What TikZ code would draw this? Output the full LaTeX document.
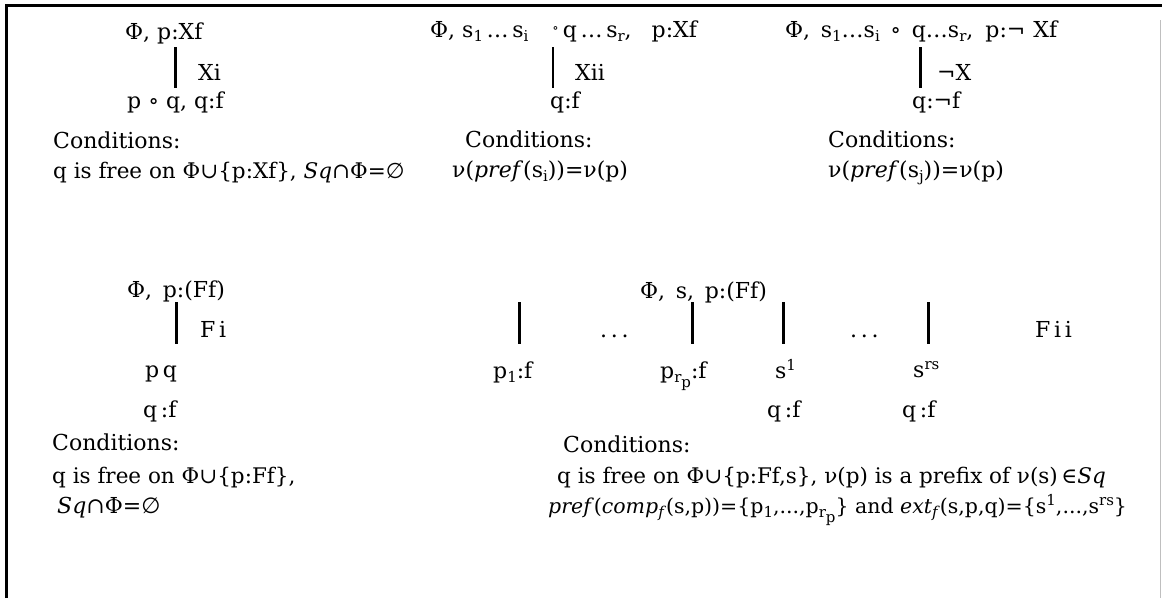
\documentclass[tikz,border=0pt]{standalone}
\usepackage{fontspec}
\setmainfont{DejaVu Serif}
\newfontfamily\symfont{DejaVu Sans}
\usetikzlibrary{positioning}

\newcommand{\lo}[1]{\raisebox{-4.5pt}{\fontsize{15}{15}\selectfont #1}}
\newcommand{\hi}[1]{\raisebox{8pt}{\fontsize{15}{15}\selectfont #1}}
\newcommand{\nullset}{{\symfont ∅}}

\begin{document}
\begin{tikzpicture}[x=1pt, y=-1pt, font=\fontsize{22}{26}\selectfont,
  txt/.style={anchor=base west, inner sep=0pt},
  bar/.style={line width=3pt},
  thinbar/.style={line width=2pt},
  frame/.style={line width=3pt}]

\useasboundingbox (0,0) rectangle (1162,598);

% ---------- frame ----------
\coordinate (fr-bl) at (6,598);
\coordinate (fr-tl) at (6,5);
\coordinate (fr-tr) at (1162,5);
\draw[frame] (fr-bl) -- (fr-tl) -- (fr-tr);
\coordinate (fr-rt) at (1160,20);
\coordinate (fr-rb) at (1160,598);
\draw[black!25, line width=0.8pt] (fr-rt) -- (fr-rb);

% ---------- rule Xi ----------
\node[txt] (xi-top) at (125,39) {Φ, p:Xf};
\coordinate (xi-a) at (175,47);
\coordinate (xi-b) at (175,88);
\draw[bar] (xi-a) -- (xi-b);
\node[txt] (xi-lbl) at (198,80) {Xi};
\node[txt] (xi-res) at (127,108) {p ∘ q, q:f};
\node[txt] (xi-cnd) at (53,148) {Conditions:};
\node[txt, font=\fontsize{21.5}{26}\selectfont] (xi-c1) at (53,178) {q is free on Φ∪\{p:Xf\}, \textit{Sq}∩Φ=\nullset};

% ---------- rule Xii ----------
\node[txt] (xii-top) at (430,37) {Φ, s\lo{1}\,…\,s\lo{i}\hspace{24pt}\raisebox{5pt}{\fontsize{13}{13}\selectfont∘}\hspace{4pt}q\,…\,s\lo{r},\hspace{20pt}p:Xf};
\coordinate (xii-a) at (553,47);
\coordinate (xii-b) at (553,88);
\draw[thinbar] (xii-a) -- (xii-b);
\node[txt] (xii-lbl) at (575,80) {Xii};
\node[txt] (xii-res) at (550,108) {q:f};
\node[txt] (xii-cnd) at (465,147) {Conditions:};
\node[txt] (xii-c1) at (452,177) {ν(\textit{pref}(s\lo{i}))=ν(p)};

% ---------- rule not X ----------
\node[txt] (nx-top) at (785,37) {Φ,\, s\lo{1}…s\lo{i}\, ∘\, q…s\lo{r},\hspace{12pt}p:¬\hspace{8pt}Xf};
\coordinate (nx-a) at (920,47);
\coordinate (nx-b) at (920,88);
\draw[bar] (nx-a) -- (nx-b);
\node[txt] (nx-lbl) at (937,80) {¬X};
\node[txt] (nx-res) at (912,108) {q:¬f};
\node[txt] (nx-cnd) at (828,147) {Conditions:};
\node[txt] (nx-c1) at (828,177) {ν(\textit{pref}(s\lo{j}))=ν(p)};

% ---------- rule Fi ----------
\node[txt] (fi-top) at (127,297) {Φ,\, p:(Ff)};
\coordinate (fi-a) at (176,302);
\coordinate (fi-b) at (176,344);
\draw[bar] (fi-a) -- (fi-b);
\node[txt] (fi-lbl) at (200,337) {F\,i};
\node[txt] (fi-pq) at (145,377) {p\,q};
\node[txt] (fi-res) at (143,417) {q\,:f};
\node[txt] (fi-cnd) at (52,450) {Conditions:};
\node[txt, font=\fontsize{21.5}{26}\selectfont] (fi-c1) at (52,483) {q is free on Φ∪\{p:Ff\},};
\node[txt] (fi-c2) at (57,513) {\textit{Sq}∩Φ=\nullset};

% ---------- rule Fii ----------
\node[txt] (fii-top) at (640,298) {Φ,\, s,\, p:(Ff)};
\foreach \nm/\bx in {p1/519, prp/692, s1/783, srs/928}{
  \coordinate (fii-\nm-a) at (\bx,302);
  \coordinate (fii-\nm-b) at (\bx,344);
  \draw[bar] (fii-\nm-a) -- (fii-\nm-b);
}
\node[txt] (fii-dots1) at (600,337) {.\,.\,.};
\node[txt] (fii-dots2) at (850,337) {.\,.\,.};
\node[txt] (fii-lbl) at (1035,337) {F\,i\,i};
\node[txt] (fii-p1) at (493,378) {p\lo{1}:f};
\node[txt] (fii-prp) at (660,378) {p\lo{r\lo{p}}:f};
\node[txt] (fii-s1) at (775,378) {s\hi{1}};
\node[txt] (fii-srs) at (913,377) {s\hi{rs}};
\node[txt] (fii-q1) at (767,417) {q\,:f};
\node[txt] (fii-q2) at (902,417) {q\,:f};
\node[txt] (fii-cnd) at (563,452) {Conditions:};
\node[txt, font=\fontsize{21.5}{26}\selectfont] (fii-c1) at (557,483) {q is free on Φ∪\{p:Ff,s\}, ν(p) is a prefix of ν(s)\,∈\textit{Sq}};
\node[txt, font=\fontsize{20.5}{24}\selectfont] (fii-c2) at (548,513) {\textit{pref}(\textit{comp}\lo{\textit{f}}(s,p))=\{p\lo{1},...,p\lo{r\lo{p}}\} and \textit{ext}\lo{\textit{f}}(s,p,q)=\{s\hi{1},...,s\hi{rs}\}};

\end{tikzpicture}
\end{document}
